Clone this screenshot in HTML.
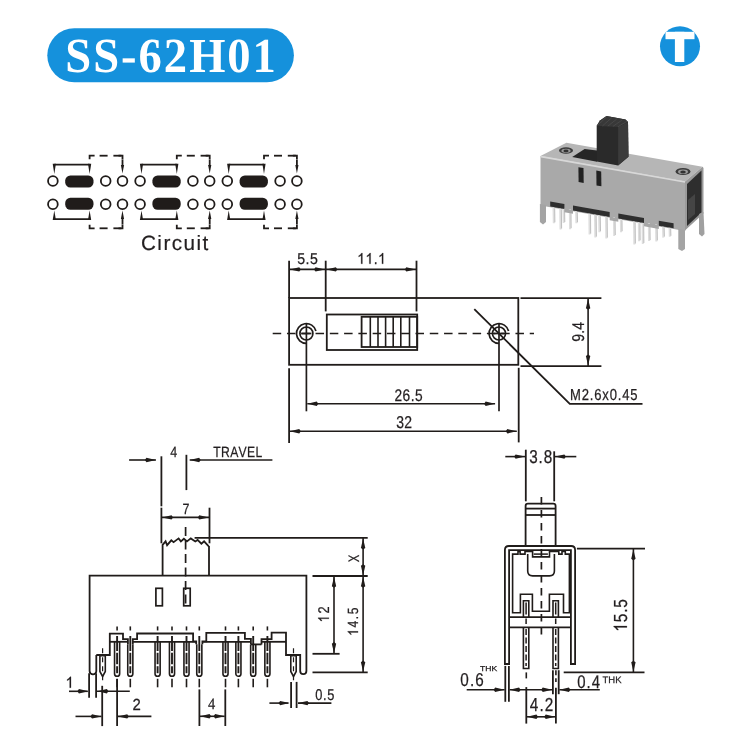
<!DOCTYPE html>
<html><head><meta charset="utf-8"><style>
html,body{margin:0;padding:0;background:#fff;width:735px;height:744px;overflow:hidden}
svg{position:absolute;left:0;top:0;display:block}
text{text-rendering:geometricPrecision}
</style></head><body>
<svg style="will-change:transform" width="735" height="744" viewBox="0 0 735 744">
<defs><filter id="soft" x="-5%" y="-5%" width="110%" height="110%"><feGaussianBlur stdDeviation="0.6"/></filter></defs>
<rect width="735" height="744" fill="#fff"/>
<g filter="url(#soft)">
<polygon points="540.5,156.1 566.4,142.8 702.5,166.8 685,181.6" fill="#b6b6b6"/>
<polygon points="540.5,156.1 685,181.6 685,231 540.5,205.5" fill="#a9a9a9"/>
<line x1="541" y1="156.6" x2="685" y2="182" stroke="#d8d8d8" stroke-width="1.6"/>
<polygon points="685,181.6 702.5,166.8 703.5,168 703.5,213.5 686,229.5 685,231" fill="#9a9a9a"/>
<polygon points="687,184 701.5,170.5 701.5,212.5 687,226" fill="#2e2e2e"/>
<polygon points="688,200 695,194 695,214 688,220" fill="#454545"/>
<polygon points="572.2,157 584.6,149 597,150.5 597,161.8" fill="#262626"/>
<polygon points="596.7,161.6 596.7,125.7 600,120.5 606.5,116 625.5,119.5 628,122 628.5,156.8 618.1,165.6" fill="#2c2c2c"/>
<polygon points="618.1,126.9 628,122 628.5,156.8 618.1,165.6" fill="#3a3a3a"/>
<polygon points="596.7,125.7 600,120.5 606.5,116 625.5,119.5 628,122 618.1,126.9" fill="#383838"/>
<line x1="597.5" y1="125.5" x2="606.5" y2="116.8" stroke="#4a4a4a" stroke-width="0.9"/>
<line x1="602.6" y1="125.8" x2="611.6" y2="117.9" stroke="#4a4a4a" stroke-width="0.9"/>
<line x1="607.8" y1="126.1" x2="616.8" y2="119.0" stroke="#4a4a4a" stroke-width="0.9"/>
<line x1="612.9" y1="126.4" x2="621.9" y2="120.2" stroke="#4a4a4a" stroke-width="0.9"/>
<line x1="618.0" y1="126.7" x2="627.0" y2="121.3" stroke="#4a4a4a" stroke-width="0.9"/>
<ellipse cx="566" cy="150.5" rx="7" ry="3.2" fill="#3c3c3c"/><ellipse cx="566" cy="150.7" rx="4.6" ry="2" fill="#9a9a9a"/><ellipse cx="566" cy="150.9" rx="2.6" ry="1.3" fill="#333"/>
<ellipse cx="683" cy="171.5" rx="7.5" ry="3.6" fill="#3c3c3c"/><ellipse cx="683" cy="171.7" rx="5" ry="2.3" fill="#9a9a9a"/><ellipse cx="683" cy="171.9" rx="2.8" ry="1.5" fill="#333"/>
<polygon points="578.4,167.2 583.5,168 583.7,182.9 578.6,182.1" fill="#222"/>
<polygon points="596.3,170.6 601.2,171.4 601.4,186.2 596.5,185.4" fill="#222"/>
<line x1="553.5" y1="206.3" x2="553.8" y2="223.3" stroke="#dedede" stroke-width="2"/>
<line x1="554.7" y1="208.3" x2="554.9" y2="222.3" stroke="#a8a8a8" stroke-width="0.7"/>
<line x1="560.2" y1="207.5" x2="560.5" y2="229.5" stroke="#dedede" stroke-width="2"/>
<line x1="561.4000000000001" y1="209.5" x2="561.6" y2="228.5" stroke="#a8a8a8" stroke-width="0.7"/>
<line x1="563.4" y1="208.0" x2="563.6999999999999" y2="223.0" stroke="#dedede" stroke-width="2"/>
<line x1="564.6" y1="210.0" x2="564.8" y2="222.0" stroke="#a8a8a8" stroke-width="0.7"/>
<line x1="569.8" y1="209.2" x2="570.0999999999999" y2="229.2" stroke="#dedede" stroke-width="2"/>
<line x1="571.0" y1="211.2" x2="571.1999999999999" y2="228.2" stroke="#a8a8a8" stroke-width="0.7"/>
<line x1="576.1" y1="210.3" x2="576.4" y2="223.3" stroke="#dedede" stroke-width="2"/>
<line x1="577.3000000000001" y1="212.3" x2="577.5" y2="222.3" stroke="#a8a8a8" stroke-width="0.7"/>
<line x1="589.3" y1="212.6" x2="589.5999999999999" y2="234.6" stroke="#dedede" stroke-width="2"/>
<line x1="590.5" y1="214.6" x2="590.6999999999999" y2="233.6" stroke="#a8a8a8" stroke-width="0.7"/>
<line x1="595" y1="213.6" x2="595.3" y2="237.6" stroke="#dedede" stroke-width="2"/>
<line x1="596.2" y1="215.6" x2="596.4" y2="236.6" stroke="#a8a8a8" stroke-width="0.7"/>
<line x1="599.1" y1="214.3" x2="599.4" y2="232.3" stroke="#dedede" stroke-width="2"/>
<line x1="600.3000000000001" y1="216.3" x2="600.5" y2="231.3" stroke="#a8a8a8" stroke-width="0.7"/>
<line x1="606" y1="215.6" x2="606.3" y2="238.6" stroke="#dedede" stroke-width="2"/>
<line x1="607.2" y1="217.6" x2="607.4" y2="237.6" stroke="#a8a8a8" stroke-width="0.7"/>
<line x1="613.9" y1="217.0" x2="614.1999999999999" y2="236.0" stroke="#dedede" stroke-width="2"/>
<line x1="615.1" y1="219.0" x2="615.3" y2="235.0" stroke="#a8a8a8" stroke-width="0.7"/>
<line x1="620.8" y1="218.2" x2="621.0999999999999" y2="232.2" stroke="#dedede" stroke-width="2"/>
<line x1="622.0" y1="220.2" x2="622.1999999999999" y2="231.2" stroke="#a8a8a8" stroke-width="0.7"/>
<line x1="634" y1="220.5" x2="634.3" y2="244.5" stroke="#dedede" stroke-width="2"/>
<line x1="635.2" y1="222.5" x2="635.4" y2="243.5" stroke="#a8a8a8" stroke-width="0.7"/>
<line x1="638.8" y1="221.3" x2="639.0999999999999" y2="241.3" stroke="#dedede" stroke-width="2"/>
<line x1="640.0" y1="223.3" x2="640.1999999999999" y2="240.3" stroke="#a8a8a8" stroke-width="0.7"/>
<line x1="642.5" y1="222.0" x2="642.8" y2="244.0" stroke="#dedede" stroke-width="2"/>
<line x1="643.7" y1="224.0" x2="643.9" y2="243.0" stroke="#a8a8a8" stroke-width="0.7"/>
<line x1="648.8" y1="223.1" x2="649.0999999999999" y2="241.1" stroke="#dedede" stroke-width="2"/>
<line x1="650.0" y1="225.1" x2="650.1999999999999" y2="240.1" stroke="#a8a8a8" stroke-width="0.7"/>
<line x1="656" y1="224.4" x2="656.3" y2="241.4" stroke="#dedede" stroke-width="2"/>
<line x1="657.2" y1="226.4" x2="657.4" y2="240.4" stroke="#a8a8a8" stroke-width="0.7"/>
<line x1="663" y1="225.6" x2="663.3" y2="237.6" stroke="#dedede" stroke-width="2"/>
<line x1="664.2" y1="227.6" x2="664.4" y2="236.6" stroke="#a8a8a8" stroke-width="0.7"/>
<line x1="669.5" y1="226.8" x2="669.8" y2="236.8" stroke="#dedede" stroke-width="2"/>
<line x1="670.7" y1="228.8" x2="670.9" y2="235.8" stroke="#a8a8a8" stroke-width="0.7"/>
<polygon points="550.2,201.5 564.4,204.0 564.4,209.0 550.2,206.5" fill="#2f2f2f"/>
<polygon points="573,205.5 609.7,212.0 609.7,217.0 573,210.5" fill="#2f2f2f"/>
<polygon points="618.3,213.5 644,218.1 644,223.1 618.3,218.5" fill="#2f2f2f"/>
<polygon points="658.8,220.7 673.6,223.3 673.6,228.3 658.8,225.7" fill="#2f2f2f"/>
<polygon points="564.4,208.7 573,210.2 573,213.7 564.4,212.2" fill="#a6a6a6"/>
<polygon points="609.7,216.7 618.3,218.2 618.3,221.7 609.7,220.2" fill="#a6a6a6"/>
<polygon points="644,222.8 658.8,225.4 658.8,228.9 644,226.3" fill="#a6a6a6"/>
<polygon points="539.9,204 546,205 546,222 543,224.5 539.9,222" fill="#a4a4a4"/>
<polygon points="678.3,229 685,230 685,249 682,251 678.3,249" fill="#a4a4a4"/>
<polygon points="699,214 703.5,212 704.5,234 702,236.5 699,234" fill="#a0a0a0"/>
</g>
<rect x="47.3" y="28.3" width="246.6" height="54" rx="27" fill="#1591dc"/>
<g transform="translate(65.32,71.70) scale(0.9500,1)"><text x="0.00" y="0" font-family='"Liberation Serif", serif' font-weight="bold" font-size="49.02" fill="#fff" stroke="#fff" stroke-width="0">S</text><text x="29.36" y="0" font-family='"Liberation Serif", serif' font-weight="bold" font-size="49.02" fill="#fff" stroke="#fff" stroke-width="0">S</text><text x="58.71" y="0" font-family='"Liberation Serif", serif' font-weight="bold" font-size="49.02" fill="#fff" stroke="#fff" stroke-width="0">-</text><text x="77.13" y="0" font-family='"Liberation Serif", serif' font-weight="bold" font-size="49.02" fill="#fff" stroke="#fff" stroke-width="0">6</text><text x="103.73" y="0" font-family='"Liberation Serif", serif' font-weight="bold" font-size="49.02" fill="#fff" stroke="#fff" stroke-width="0">2</text><text x="130.34" y="0" font-family='"Liberation Serif", serif' font-weight="bold" font-size="49.02" fill="#fff" stroke="#fff" stroke-width="0">H</text><text x="170.56" y="0" font-family='"Liberation Serif", serif' font-weight="bold" font-size="49.02" fill="#fff" stroke="#fff" stroke-width="0">0</text><text x="197.16" y="0" font-family='"Liberation Serif", serif' font-weight="bold" font-size="49.02" fill="#fff" stroke="#fff" stroke-width="0">1</text></g>
<clipPath id="tc"><circle cx="680" cy="46.3" r="20"/></clipPath>
<circle cx="680" cy="46.3" r="20" fill="#1591dc"/>
<g clip-path="url(#tc)"><rect x="665.5" y="31.8" width="29" height="7.4" fill="#fff"/><rect x="674.9" y="31.8" width="9.4" height="30.2" fill="#fff"/></g>
<circle cx="52.9" cy="181" r="4.85" fill="none" stroke="#201c1a" stroke-width="1.8"/>
<circle cx="105.7" cy="181" r="4.85" fill="none" stroke="#201c1a" stroke-width="1.8"/>
<circle cx="122.5" cy="181" r="4.85" fill="none" stroke="#201c1a" stroke-width="1.8"/>
<rect x="65.2" y="175.4" width="28.3" height="12" rx="5.2" fill="#201c1a"/>
<circle cx="52.9" cy="204.2" r="4.85" fill="none" stroke="#201c1a" stroke-width="1.8"/>
<circle cx="105.7" cy="204.2" r="4.85" fill="none" stroke="#201c1a" stroke-width="1.8"/>
<circle cx="122.5" cy="204.2" r="4.85" fill="none" stroke="#201c1a" stroke-width="1.8"/>
<rect x="65.2" y="197.8" width="28.3" height="12" rx="5.2" fill="#201c1a"/>
<line x1="54.3" y1="164.6" x2="89.6" y2="164.6" stroke="#201c1a" stroke-width="1.8"/>
<polygon points="52.7,163.7 55.9,163.7 54.3,174.1" fill="#201c1a"/>
<polygon points="88.0,163.7 91.2,163.7 89.6,174.1" fill="#201c1a"/>
<path d="M89.6,159.2 V155.7 H94.6" fill="none" stroke="#201c1a" stroke-width="1.8" />
<line x1="99.6" y1="155.7" x2="107.6" y2="155.7" stroke="#201c1a" stroke-width="1.8"/>
<line x1="113.39999999999999" y1="155.7" x2="121.39999999999999" y2="155.7" stroke="#201c1a" stroke-width="1.8"/>
<path d="M118.5,155.7 H122.5 V159.5" fill="none" stroke="#201c1a" stroke-width="1.8" />
<line x1="122.5" y1="159.7" x2="122.5" y2="166" stroke="#201c1a" stroke-width="1.8"/>
<polygon points="120.9,165 124.1,165 122.5,173.4" fill="#201c1a"/>
<line x1="54.3" y1="219.1" x2="89.6" y2="219.1" stroke="#201c1a" stroke-width="1.8"/>
<polygon points="52.7,220 55.9,220 54.3,210.6" fill="#201c1a"/>
<polygon points="88.0,220 91.2,220 89.6,210.6" fill="#201c1a"/>
<path d="M89.6,224.8 V228.3 H94.6" fill="none" stroke="#201c1a" stroke-width="1.8" />
<line x1="99.6" y1="228.3" x2="107.6" y2="228.3" stroke="#201c1a" stroke-width="1.8"/>
<line x1="113.39999999999999" y1="228.3" x2="121.39999999999999" y2="228.3" stroke="#201c1a" stroke-width="1.8"/>
<path d="M118.5,228.3 H122.5 V224.5" fill="none" stroke="#201c1a" stroke-width="1.8" />
<line x1="122.5" y1="224.3" x2="122.5" y2="218" stroke="#201c1a" stroke-width="1.8"/>
<polygon points="120.9,219 124.1,219 122.5,210.6" fill="#201c1a"/>
<circle cx="140.1" cy="181" r="4.85" fill="none" stroke="#201c1a" stroke-width="1.8"/>
<circle cx="192.9" cy="181" r="4.85" fill="none" stroke="#201c1a" stroke-width="1.8"/>
<circle cx="209.7" cy="181" r="4.85" fill="none" stroke="#201c1a" stroke-width="1.8"/>
<rect x="152.4" y="175.4" width="28.3" height="12" rx="5.2" fill="#201c1a"/>
<circle cx="140.1" cy="204.2" r="4.85" fill="none" stroke="#201c1a" stroke-width="1.8"/>
<circle cx="192.9" cy="204.2" r="4.85" fill="none" stroke="#201c1a" stroke-width="1.8"/>
<circle cx="209.7" cy="204.2" r="4.85" fill="none" stroke="#201c1a" stroke-width="1.8"/>
<rect x="152.4" y="197.8" width="28.3" height="12" rx="5.2" fill="#201c1a"/>
<line x1="141.5" y1="164.6" x2="176.8" y2="164.6" stroke="#201c1a" stroke-width="1.8"/>
<polygon points="139.9,163.7 143.1,163.7 141.5,174.1" fill="#201c1a"/>
<polygon points="175.2,163.7 178.4,163.7 176.8,174.1" fill="#201c1a"/>
<path d="M176.8,159.2 V155.7 H181.8" fill="none" stroke="#201c1a" stroke-width="1.8" />
<line x1="186.8" y1="155.7" x2="194.8" y2="155.7" stroke="#201c1a" stroke-width="1.8"/>
<line x1="200.60000000000002" y1="155.7" x2="208.60000000000002" y2="155.7" stroke="#201c1a" stroke-width="1.8"/>
<path d="M205.7,155.7 H209.7 V159.5" fill="none" stroke="#201c1a" stroke-width="1.8" />
<line x1="209.7" y1="159.7" x2="209.7" y2="166" stroke="#201c1a" stroke-width="1.8"/>
<polygon points="208.1,165 211.3,165 209.7,173.4" fill="#201c1a"/>
<line x1="141.5" y1="219.1" x2="176.8" y2="219.1" stroke="#201c1a" stroke-width="1.8"/>
<polygon points="139.9,220 143.1,220 141.5,210.6" fill="#201c1a"/>
<polygon points="175.2,220 178.4,220 176.8,210.6" fill="#201c1a"/>
<path d="M176.8,224.8 V228.3 H181.8" fill="none" stroke="#201c1a" stroke-width="1.8" />
<line x1="186.8" y1="228.3" x2="194.8" y2="228.3" stroke="#201c1a" stroke-width="1.8"/>
<line x1="200.60000000000002" y1="228.3" x2="208.60000000000002" y2="228.3" stroke="#201c1a" stroke-width="1.8"/>
<path d="M205.7,228.3 H209.7 V224.5" fill="none" stroke="#201c1a" stroke-width="1.8" />
<line x1="209.7" y1="224.3" x2="209.7" y2="218" stroke="#201c1a" stroke-width="1.8"/>
<polygon points="208.1,219 211.3,219 209.7,210.6" fill="#201c1a"/>
<circle cx="227.3" cy="181" r="4.85" fill="none" stroke="#201c1a" stroke-width="1.8"/>
<circle cx="280.1" cy="181" r="4.85" fill="none" stroke="#201c1a" stroke-width="1.8"/>
<circle cx="296.9" cy="181" r="4.85" fill="none" stroke="#201c1a" stroke-width="1.8"/>
<rect x="239.6" y="175.4" width="28.3" height="12" rx="5.2" fill="#201c1a"/>
<circle cx="227.3" cy="204.2" r="4.85" fill="none" stroke="#201c1a" stroke-width="1.8"/>
<circle cx="280.1" cy="204.2" r="4.85" fill="none" stroke="#201c1a" stroke-width="1.8"/>
<circle cx="296.9" cy="204.2" r="4.85" fill="none" stroke="#201c1a" stroke-width="1.8"/>
<rect x="239.6" y="197.8" width="28.3" height="12" rx="5.2" fill="#201c1a"/>
<line x1="228.70000000000002" y1="164.6" x2="264.0" y2="164.6" stroke="#201c1a" stroke-width="1.8"/>
<polygon points="227.1,163.7 230.3,163.7 228.7,174.1" fill="#201c1a"/>
<polygon points="262.4,163.7 265.6,163.7 264.0,174.1" fill="#201c1a"/>
<path d="M264.0,159.2 V155.7 H269.0" fill="none" stroke="#201c1a" stroke-width="1.8" />
<line x1="274.0" y1="155.7" x2="282.0" y2="155.7" stroke="#201c1a" stroke-width="1.8"/>
<line x1="287.8" y1="155.7" x2="295.8" y2="155.7" stroke="#201c1a" stroke-width="1.8"/>
<path d="M292.9,155.7 H296.9 V159.5" fill="none" stroke="#201c1a" stroke-width="1.8" />
<line x1="296.9" y1="159.7" x2="296.9" y2="166" stroke="#201c1a" stroke-width="1.8"/>
<polygon points="295.3,165 298.5,165 296.9,173.4" fill="#201c1a"/>
<line x1="228.70000000000002" y1="219.1" x2="264.0" y2="219.1" stroke="#201c1a" stroke-width="1.8"/>
<polygon points="227.1,220 230.3,220 228.7,210.6" fill="#201c1a"/>
<polygon points="262.4,220 265.6,220 264.0,210.6" fill="#201c1a"/>
<path d="M264.0,224.8 V228.3 H269.0" fill="none" stroke="#201c1a" stroke-width="1.8" />
<line x1="274.0" y1="228.3" x2="282.0" y2="228.3" stroke="#201c1a" stroke-width="1.8"/>
<line x1="287.8" y1="228.3" x2="295.8" y2="228.3" stroke="#201c1a" stroke-width="1.8"/>
<path d="M292.9,228.3 H296.9 V224.5" fill="none" stroke="#201c1a" stroke-width="1.8" />
<line x1="296.9" y1="224.3" x2="296.9" y2="218" stroke="#201c1a" stroke-width="1.8"/>
<polygon points="295.3,219 298.5,219 296.9,210.6" fill="#201c1a"/>
<g transform="translate(140.95,250.20) scale(1.0000,1)"><text x="0.00" y="0" font-family='"Liberation Sans", sans-serif' font-weight="normal" font-size="20.70" fill="#231f20" stroke="#231f20" stroke-width="0.2">C</text><text x="16.41" y="0" font-family='"Liberation Sans", sans-serif' font-weight="normal" font-size="20.70" fill="#231f20" stroke="#231f20" stroke-width="0.2">i</text><text x="22.46" y="0" font-family='"Liberation Sans", sans-serif' font-weight="normal" font-size="20.70" fill="#231f20" stroke="#231f20" stroke-width="0.2">r</text><text x="30.82" y="0" font-family='"Liberation Sans", sans-serif' font-weight="normal" font-size="20.70" fill="#231f20" stroke="#231f20" stroke-width="0.2">c</text><text x="42.62" y="0" font-family='"Liberation Sans", sans-serif' font-weight="normal" font-size="20.70" fill="#231f20" stroke="#231f20" stroke-width="0.2">u</text><text x="55.59" y="0" font-family='"Liberation Sans", sans-serif' font-weight="normal" font-size="20.70" fill="#231f20" stroke="#231f20" stroke-width="0.2">i</text><text x="61.65" y="0" font-family='"Liberation Sans", sans-serif' font-weight="normal" font-size="20.70" fill="#231f20" stroke="#231f20" stroke-width="0.2">t</text></g>
<rect x="289.1" y="298" width="229.2" height="66.8" fill="none" stroke="#201c1a" stroke-width="1.8"/>
<rect x="326.8" y="314.5" width="90.4" height="35.5" fill="none" stroke="#201c1a" stroke-width="1.8"/>
<rect x="361.6" y="316.8" width="55.6" height="30.2" fill="none" stroke="#201c1a" stroke-width="1.8"/>
<line x1="370.3" y1="316.8" x2="370.3" y2="347" stroke="#201c1a" stroke-width="1.6"/>
<line x1="378" y1="316.8" x2="378" y2="347" stroke="#201c1a" stroke-width="1.6"/>
<line x1="385.6" y1="316.8" x2="385.6" y2="347" stroke="#201c1a" stroke-width="1.6"/>
<line x1="393.2" y1="316.8" x2="393.2" y2="347" stroke="#201c1a" stroke-width="1.6"/>
<line x1="400.8" y1="316.8" x2="400.8" y2="347" stroke="#201c1a" stroke-width="1.6"/>
<line x1="409.5" y1="316.8" x2="409.5" y2="347" stroke="#201c1a" stroke-width="1.6"/>
<line x1="272.7" y1="333.5" x2="534" y2="333.5" stroke="#201c1a" stroke-width="1.6" stroke-dasharray="8.5,5.78"/>
<circle cx="306.4" cy="333.5" r="6.5" fill="none" stroke="#201c1a" stroke-width="1.7"/>
<path d="M315.96,330.94 A9.9,9.9 0 1 0 306.40,343.40" fill="none" stroke="#201c1a" stroke-width="1.7" />
<line x1="306.4" y1="323" x2="306.4" y2="411.3" stroke="#201c1a" stroke-width="1.7"/>
<line x1="301.4" y1="333.5" x2="311.4" y2="333.5" stroke="#201c1a" stroke-width="1.7"/>
<circle cx="499" cy="333.5" r="6.5" fill="none" stroke="#201c1a" stroke-width="1.7"/>
<path d="M508.56,330.94 A9.9,9.9 0 1 0 499.00,343.40" fill="none" stroke="#201c1a" stroke-width="1.7" />
<line x1="499" y1="323" x2="499" y2="411.3" stroke="#201c1a" stroke-width="1.7"/>
<line x1="494" y1="333.5" x2="504" y2="333.5" stroke="#201c1a" stroke-width="1.7"/>
<line x1="289.1" y1="260.7" x2="289.1" y2="298" stroke="#201c1a" stroke-width="1.8"/>
<line x1="325.7" y1="260.7" x2="325.7" y2="311.4" stroke="#201c1a" stroke-width="1.8"/>
<line x1="416.5" y1="260.7" x2="416.5" y2="311.4" stroke="#201c1a" stroke-width="1.8"/>
<line x1="289.1" y1="269.4" x2="416.5" y2="269.4" stroke="#201c1a" stroke-width="1.6"/>
<polygon points="289.80,269.40 299.26,267.20 300.80,269.40 299.26,271.60" fill="#201c1a"/>
<polygon points="325.00,269.40 315.54,267.20 314.00,269.40 315.54,271.60" fill="#201c1a"/>
<polygon points="326.40,269.40 335.86,267.20 337.40,269.40 335.86,271.60" fill="#201c1a"/>
<polygon points="415.80,269.40 406.34,267.20 404.80,269.40 406.34,271.60" fill="#201c1a"/>
<g transform="translate(297.33,263.80) scale(0.9000,1)"><text x="0.00" y="0" font-family='"Liberation Sans", sans-serif' font-weight="normal" font-size="15.70" fill="#231f20" stroke="#231f20" stroke-width="0.25">5</text><text x="9.19" y="0" font-family='"Liberation Sans", sans-serif' font-weight="normal" font-size="15.70" fill="#231f20" stroke="#231f20" stroke-width="0.25">.</text><text x="14.00" y="0" font-family='"Liberation Sans", sans-serif' font-weight="normal" font-size="15.70" fill="#231f20" stroke="#231f20" stroke-width="0.25">5</text></g>
<g transform="translate(357.18,263.80) scale(0.9000,1)"><polygon points="5.77,0.00 5.77,-10.80 4.87,-10.80 4.18,-9.90 2.94,-8.85 1.69,-8.11 1.69,-6.81 3.09,-7.47 4.38,-8.39 4.38,0.00" fill="#231f20" stroke="#231f20" stroke-width="0.25" stroke-linejoin="round"/><polygon points="14.92,0.00 14.92,-10.80 14.02,-10.80 13.32,-9.90 12.09,-8.85 10.83,-8.11 10.83,-6.81 12.24,-7.47 13.53,-8.39 13.53,0.00" fill="#231f20" stroke="#231f20" stroke-width="0.25" stroke-linejoin="round"/><text x="18.29" y="0" font-family='"Liberation Sans", sans-serif' font-weight="normal" font-size="15.47" fill="#231f20" stroke="#231f20" stroke-width="0.25">.</text><polygon points="28.91,0.00 28.91,-10.80 28.01,-10.80 27.32,-9.90 26.08,-8.85 24.82,-8.11 24.82,-6.81 26.23,-7.47 27.52,-8.39 27.52,0.00" fill="#231f20" stroke="#231f20" stroke-width="0.25" stroke-linejoin="round"/></g>
<line x1="520.5" y1="298.1" x2="601.4" y2="298.1" stroke="#201c1a" stroke-width="1.8"/>
<line x1="520.5" y1="366.1" x2="601.4" y2="366.1" stroke="#201c1a" stroke-width="1.8"/>
<line x1="588.1" y1="298.1" x2="588.1" y2="366.1" stroke="#201c1a" stroke-width="1.6"/>
<polygon points="588.10,298.80 585.90,308.26 588.10,309.80 590.30,308.26" fill="#201c1a"/>
<polygon points="588.10,365.40 585.90,355.94 588.10,354.40 590.30,355.94" fill="#201c1a"/>
<g transform="translate(578.00,331.70) rotate(-90) translate(-10.06,5.95) scale(0.8200,1)"><text x="0.00" y="0" font-family='"Liberation Sans", sans-serif' font-weight="normal" font-size="17.04" fill="#231f20" stroke="#231f20" stroke-width="0.25">9</text><text x="9.74" y="0" font-family='"Liberation Sans", sans-serif' font-weight="normal" font-size="17.04" fill="#231f20" stroke="#231f20" stroke-width="0.25">.</text><text x="14.75" y="0" font-family='"Liberation Sans", sans-serif' font-weight="normal" font-size="17.04" fill="#231f20" stroke="#231f20" stroke-width="0.25">4</text></g>
<line x1="289.1" y1="368.2" x2="289.1" y2="442.9" stroke="#201c1a" stroke-width="1.8"/>
<line x1="518.7" y1="367.8" x2="518.7" y2="442.4" stroke="#201c1a" stroke-width="1.8"/>
<line x1="307.3" y1="403.7" x2="495.1" y2="403.7" stroke="#201c1a" stroke-width="1.6"/>
<polygon points="307.30,403.70 316.76,401.50 318.30,403.70 316.76,405.90" fill="#201c1a"/>
<polygon points="495.10,403.70 485.64,401.50 484.10,403.70 485.64,405.90" fill="#201c1a"/>
<line x1="289.8" y1="431.3" x2="516.8" y2="431.3" stroke="#201c1a" stroke-width="1.6"/>
<polygon points="289.80,431.30 299.26,429.10 300.80,431.30 299.26,433.50" fill="#201c1a"/>
<polygon points="516.80,431.30 507.34,429.10 505.80,431.30 507.34,433.50" fill="#201c1a"/>
<g transform="translate(394.51,401.10) scale(0.8200,1)"><text x="0.00" y="0" font-family='"Liberation Sans", sans-serif' font-weight="normal" font-size="16.76" fill="#231f20" stroke="#231f20" stroke-width="0.25">2</text><text x="9.90" y="0" font-family='"Liberation Sans", sans-serif' font-weight="normal" font-size="16.76" fill="#231f20" stroke="#231f20" stroke-width="0.25">6</text><text x="19.80" y="0" font-family='"Liberation Sans", sans-serif' font-weight="normal" font-size="16.76" fill="#231f20" stroke="#231f20" stroke-width="0.25">.</text><text x="25.03" y="0" font-family='"Liberation Sans", sans-serif' font-weight="normal" font-size="16.76" fill="#231f20" stroke="#231f20" stroke-width="0.25">5</text></g>
<g transform="translate(396.17,428.00) scale(0.8200,1)"><text x="0.00" y="0" font-family='"Liberation Sans", sans-serif' font-weight="normal" font-size="17.04" fill="#231f20" stroke="#231f20" stroke-width="0.25">3</text><text x="9.71" y="0" font-family='"Liberation Sans", sans-serif' font-weight="normal" font-size="17.04" fill="#231f20" stroke="#231f20" stroke-width="0.25">2</text></g>
<path d="M474.3,309.2 L569.8,403.9 H642.5" fill="none" stroke="#201c1a" stroke-width="1.8" />
<g transform="translate(569.93,400.20) scale(0.8200,1)"><text x="0.00" y="0" font-family='"Liberation Sans", sans-serif' font-weight="normal" font-size="15.90" fill="#231f20" stroke="#231f20" stroke-width="0.25">M</text><text x="14.27" y="0" font-family='"Liberation Sans", sans-serif' font-weight="normal" font-size="15.90" fill="#231f20" stroke="#231f20" stroke-width="0.25">2</text><text x="24.14" y="0" font-family='"Liberation Sans", sans-serif' font-weight="normal" font-size="15.90" fill="#231f20" stroke="#231f20" stroke-width="0.25">.</text><text x="29.59" y="0" font-family='"Liberation Sans", sans-serif' font-weight="normal" font-size="15.90" fill="#231f20" stroke="#231f20" stroke-width="0.25">6</text><text x="39.46" y="0" font-family='"Liberation Sans", sans-serif' font-weight="normal" font-size="15.90" fill="#231f20" stroke="#231f20" stroke-width="0.25">x</text><text x="48.43" y="0" font-family='"Liberation Sans", sans-serif' font-weight="normal" font-size="15.90" fill="#231f20" stroke="#231f20" stroke-width="0.25">0</text><text x="58.30" y="0" font-family='"Liberation Sans", sans-serif' font-weight="normal" font-size="15.90" fill="#231f20" stroke="#231f20" stroke-width="0.25">.</text><text x="63.75" y="0" font-family='"Liberation Sans", sans-serif' font-weight="normal" font-size="15.90" fill="#231f20" stroke="#231f20" stroke-width="0.25">4</text><text x="73.62" y="0" font-family='"Liberation Sans", sans-serif' font-weight="normal" font-size="15.90" fill="#231f20" stroke="#231f20" stroke-width="0.25">5</text></g>
<line x1="161.4" y1="456.3" x2="161.4" y2="506.3" stroke="#201c1a" stroke-width="1.8"/>
<line x1="161.4" y1="507.7" x2="161.4" y2="543.3" stroke="#201c1a" stroke-width="1.8"/>
<line x1="186.4" y1="454.8" x2="186.4" y2="490.1" stroke="#201c1a" stroke-width="1.8"/>
<line x1="129.1" y1="460" x2="155.9" y2="460" stroke="#201c1a" stroke-width="1.6"/>
<polygon points="155.90,460.00 146.44,457.80 144.90,460.00 146.44,462.20" fill="#201c1a"/>
<line x1="189.7" y1="460" x2="272.4" y2="460" stroke="#201c1a" stroke-width="1.6"/>
<polygon points="189.70,460.00 199.16,457.80 200.70,460.00 199.16,462.20" fill="#201c1a"/>
<g transform="translate(170.21,456.50) scale(0.8433,1)"><text x="0.00" y="0" font-family='"Liberation Sans", sans-serif' font-weight="normal" font-size="14.83" fill="#231f20" stroke="#231f20" stroke-width="0.25">4</text></g>
<g transform="translate(213.33,456.50) scale(0.8200,1)"><text x="0.00" y="0" font-family='"Liberation Sans", sans-serif' font-weight="normal" font-size="14.83" fill="#231f20" stroke="#231f20" stroke-width="0.25">T</text><text x="9.44" y="0" font-family='"Liberation Sans", sans-serif' font-weight="normal" font-size="14.83" fill="#231f20" stroke="#231f20" stroke-width="0.25">R</text><text x="20.54" y="0" font-family='"Liberation Sans", sans-serif' font-weight="normal" font-size="14.83" fill="#231f20" stroke="#231f20" stroke-width="0.25">A</text><text x="30.81" y="0" font-family='"Liberation Sans", sans-serif' font-weight="normal" font-size="14.83" fill="#231f20" stroke="#231f20" stroke-width="0.25">V</text><text x="41.09" y="0" font-family='"Liberation Sans", sans-serif' font-weight="normal" font-size="14.83" fill="#231f20" stroke="#231f20" stroke-width="0.25">E</text><text x="51.36" y="0" font-family='"Liberation Sans", sans-serif' font-weight="normal" font-size="14.83" fill="#231f20" stroke="#231f20" stroke-width="0.25">L</text></g>
<line x1="209.5" y1="507.7" x2="209.5" y2="543.3" stroke="#201c1a" stroke-width="1.8"/>
<line x1="161.4" y1="517.4" x2="209.5" y2="517.4" stroke="#201c1a" stroke-width="1.6"/>
<polygon points="162.10,517.40 171.56,515.20 173.10,517.40 171.56,519.60" fill="#201c1a"/>
<polygon points="208.80,517.40 199.34,515.20 197.80,517.40 199.34,519.60" fill="#201c1a"/>
<g transform="translate(182.56,514.00) scale(0.8457,1)"><text x="0.00" y="0" font-family='"Liberation Sans", sans-serif' font-weight="normal" font-size="14.83" fill="#231f20" stroke="#231f20" stroke-width="0.25">7</text></g>
<path d="M162.6,575.7 V544.9 L165.6,541.3 L167.1,545.2 L171.3,540.3 L173.6,542.2 L178.6,538.4 L180.9,541.4 L183.9,538.8 L187,541.4 L190.8,538.4 L195.3,541.4 L197.6,539.9 L201.4,543.7 L204.1,541.3 L208.7,546.4 L209,546.6 V575.7" fill="none" stroke="#201c1a" stroke-width="1.8" />
<line x1="194.6" y1="537.8" x2="367.7" y2="537.8" stroke="#201c1a" stroke-width="1.8"/>
<line x1="185.6" y1="527" x2="185.6" y2="607" stroke="#201c1a" stroke-width="1.7" stroke-dasharray="9,4.5"/>
<path d="M96.3,655 V671 A3.35,3.35 0 0 1 89.6,671 V575.7 H306.4 V671 A3.1,3.1 0 0 1 300.2,671 V655 H286 V632.6 H271.6 V639.1 H261.5 V644.4 M255.5,644.4 V644.4 M250.9,644.4 V638.9 H244.9 V632.8 H206.3 V641.4 H202.4 V644.3 M196.2,644.3 V641.4 H193.1 V633.5 H137.1 V639.2 H132.8 V644.2 M127.9,644.2 V639.1 H123 V633.6 H109.8 V655 H96.3" fill="none" stroke="#201c1a" stroke-width="1.8" />
<line x1="109.8" y1="641.8" x2="127.9" y2="641.8" stroke="#201c1a" stroke-width="1.8"/>
<line x1="132.8" y1="641.8" x2="196.2" y2="641.8" stroke="#201c1a" stroke-width="1.8"/>
<line x1="202.4" y1="641.8" x2="250.9" y2="641.8" stroke="#201c1a" stroke-width="1.8"/>
<line x1="261.5" y1="641.8" x2="286" y2="641.8" stroke="#201c1a" stroke-width="1.8"/>
<path d="M250.9,644.4 H261.5" fill="none" stroke="#201c1a" stroke-width="1.8" />
<rect x="155.9" y="588.3" width="6.5" height="17.5" fill="none" stroke="#201c1a" stroke-width="1.7"/>
<rect x="183.7" y="588.3" width="6.5" height="17.5" fill="none" stroke="#201c1a" stroke-width="1.7"/>
<path d="M114.55,641.8 V673.75 A2.55,2.55 0 0 0 119.65,673.75 V641.8" fill="none" stroke="#201c1a" stroke-width="1.6" />
<line x1="117.1" y1="626.4" x2="117.1" y2="630.5" stroke="#201c1a" stroke-width="1.6"/>
<line x1="117.1" y1="636" x2="117.1" y2="651" stroke="#201c1a" stroke-width="1.9"/>
<line x1="117.1" y1="652.8" x2="117.1" y2="664.2" stroke="#201c1a" stroke-width="1.9"/>
<line x1="117.1" y1="666.2" x2="117.1" y2="673.2" stroke="#201c1a" stroke-width="1.9"/>
<line x1="117.1" y1="678.8" x2="117.1" y2="687.3" stroke="#201c1a" stroke-width="1.6"/>
<path d="M127.75,644.2 V673.75 A2.55,2.55 0 0 0 132.85,673.75 V644.2" fill="none" stroke="#201c1a" stroke-width="1.6" />
<line x1="130.3" y1="626.4" x2="130.3" y2="630.5" stroke="#201c1a" stroke-width="1.6"/>
<line x1="130.3" y1="636" x2="130.3" y2="651" stroke="#201c1a" stroke-width="1.9"/>
<line x1="130.3" y1="652.8" x2="130.3" y2="664.2" stroke="#201c1a" stroke-width="1.9"/>
<line x1="130.3" y1="666.2" x2="130.3" y2="673.2" stroke="#201c1a" stroke-width="1.9"/>
<line x1="130.3" y1="678.8" x2="130.3" y2="687.3" stroke="#201c1a" stroke-width="1.6"/>
<path d="M155.05,641.8 V673.75 A2.55,2.55 0 0 0 160.15,673.75 V641.8" fill="none" stroke="#201c1a" stroke-width="1.6" />
<line x1="157.6" y1="626.4" x2="157.6" y2="630.5" stroke="#201c1a" stroke-width="1.6"/>
<line x1="157.6" y1="636" x2="157.6" y2="651" stroke="#201c1a" stroke-width="1.9"/>
<line x1="157.6" y1="652.8" x2="157.6" y2="664.2" stroke="#201c1a" stroke-width="1.9"/>
<line x1="157.6" y1="666.2" x2="157.6" y2="673.2" stroke="#201c1a" stroke-width="1.9"/>
<line x1="157.6" y1="678.8" x2="157.6" y2="687.3" stroke="#201c1a" stroke-width="1.6"/>
<path d="M169.45,641.8 V673.75 A2.55,2.55 0 0 0 174.55,673.75 V641.8" fill="none" stroke="#201c1a" stroke-width="1.6" />
<line x1="172.0" y1="626.4" x2="172.0" y2="630.5" stroke="#201c1a" stroke-width="1.6"/>
<line x1="172.0" y1="636" x2="172.0" y2="651" stroke="#201c1a" stroke-width="1.9"/>
<line x1="172.0" y1="652.8" x2="172.0" y2="664.2" stroke="#201c1a" stroke-width="1.9"/>
<line x1="172.0" y1="666.2" x2="172.0" y2="673.2" stroke="#201c1a" stroke-width="1.9"/>
<line x1="172.0" y1="678.8" x2="172.0" y2="687.3" stroke="#201c1a" stroke-width="1.6"/>
<path d="M183.95,641.8 V673.75 A2.55,2.55 0 0 0 189.05,673.75 V641.8" fill="none" stroke="#201c1a" stroke-width="1.6" />
<line x1="186.5" y1="626.4" x2="186.5" y2="630.5" stroke="#201c1a" stroke-width="1.6"/>
<line x1="186.5" y1="636" x2="186.5" y2="651" stroke="#201c1a" stroke-width="1.9"/>
<line x1="186.5" y1="652.8" x2="186.5" y2="664.2" stroke="#201c1a" stroke-width="1.9"/>
<line x1="186.5" y1="666.2" x2="186.5" y2="673.2" stroke="#201c1a" stroke-width="1.9"/>
<line x1="186.5" y1="678.8" x2="186.5" y2="687.3" stroke="#201c1a" stroke-width="1.6"/>
<path d="M196.75,644.3 V673.75 A2.55,2.55 0 0 0 201.85,673.75 V644.3" fill="none" stroke="#201c1a" stroke-width="1.6" />
<line x1="199.3" y1="626.4" x2="199.3" y2="630.5" stroke="#201c1a" stroke-width="1.6"/>
<line x1="199.3" y1="636" x2="199.3" y2="651" stroke="#201c1a" stroke-width="1.9"/>
<line x1="199.3" y1="652.8" x2="199.3" y2="664.2" stroke="#201c1a" stroke-width="1.9"/>
<line x1="199.3" y1="666.2" x2="199.3" y2="673.2" stroke="#201c1a" stroke-width="1.9"/>
<line x1="199.3" y1="678.8" x2="199.3" y2="687.3" stroke="#201c1a" stroke-width="1.6"/>
<path d="M222.95,641.8 V673.75 A2.55,2.55 0 0 0 228.05,673.75 V641.8" fill="none" stroke="#201c1a" stroke-width="1.6" />
<line x1="225.5" y1="626.4" x2="225.5" y2="630.5" stroke="#201c1a" stroke-width="1.6"/>
<line x1="225.5" y1="636" x2="225.5" y2="651" stroke="#201c1a" stroke-width="1.9"/>
<line x1="225.5" y1="652.8" x2="225.5" y2="664.2" stroke="#201c1a" stroke-width="1.9"/>
<line x1="225.5" y1="666.2" x2="225.5" y2="673.2" stroke="#201c1a" stroke-width="1.9"/>
<line x1="225.5" y1="678.8" x2="225.5" y2="687.3" stroke="#201c1a" stroke-width="1.6"/>
<path d="M235.85,641.8 V673.75 A2.55,2.55 0 0 0 240.95,673.75 V641.8" fill="none" stroke="#201c1a" stroke-width="1.6" />
<line x1="238.4" y1="626.4" x2="238.4" y2="630.5" stroke="#201c1a" stroke-width="1.6"/>
<line x1="238.4" y1="636" x2="238.4" y2="651" stroke="#201c1a" stroke-width="1.9"/>
<line x1="238.4" y1="652.8" x2="238.4" y2="664.2" stroke="#201c1a" stroke-width="1.9"/>
<line x1="238.4" y1="666.2" x2="238.4" y2="673.2" stroke="#201c1a" stroke-width="1.9"/>
<line x1="238.4" y1="678.8" x2="238.4" y2="687.3" stroke="#201c1a" stroke-width="1.6"/>
<path d="M250.65,644.4 V673.75 A2.55,2.55 0 0 0 255.75,673.75 V644.4" fill="none" stroke="#201c1a" stroke-width="1.6" />
<line x1="253.2" y1="626.4" x2="253.2" y2="630.5" stroke="#201c1a" stroke-width="1.6"/>
<line x1="253.2" y1="636" x2="253.2" y2="651" stroke="#201c1a" stroke-width="1.9"/>
<line x1="253.2" y1="652.8" x2="253.2" y2="664.2" stroke="#201c1a" stroke-width="1.9"/>
<line x1="253.2" y1="666.2" x2="253.2" y2="673.2" stroke="#201c1a" stroke-width="1.9"/>
<line x1="253.2" y1="678.8" x2="253.2" y2="687.3" stroke="#201c1a" stroke-width="1.6"/>
<path d="M264.85,641.8 V673.75 A2.55,2.55 0 0 0 269.95,673.75 V641.8" fill="none" stroke="#201c1a" stroke-width="1.6" />
<line x1="267.4" y1="626.4" x2="267.4" y2="630.5" stroke="#201c1a" stroke-width="1.6"/>
<line x1="267.4" y1="636" x2="267.4" y2="651" stroke="#201c1a" stroke-width="1.9"/>
<line x1="267.4" y1="652.8" x2="267.4" y2="664.2" stroke="#201c1a" stroke-width="1.9"/>
<line x1="267.4" y1="666.2" x2="267.4" y2="673.2" stroke="#201c1a" stroke-width="1.9"/>
<line x1="267.4" y1="678.8" x2="267.4" y2="687.3" stroke="#201c1a" stroke-width="1.6"/>
<path d="M99.90,655.6 V671.5 L102.60,676.5 L105.30,671.5 V655.6 Z" fill="none" stroke="#201c1a" stroke-width="1.6" />
<line x1="102.6" y1="648.3" x2="102.6" y2="683" stroke="#201c1a" stroke-width="1.2" stroke-dasharray="5,4"/>
<path d="M290.80,655.6 V671.5 L293.50,676.5 L296.20,671.5 V655.6 Z" fill="none" stroke="#201c1a" stroke-width="1.6" />
<line x1="293.5" y1="648.3" x2="293.5" y2="683" stroke="#201c1a" stroke-width="1.2" stroke-dasharray="5,4"/>
<line x1="312.5" y1="576" x2="367.7" y2="576" stroke="#201c1a" stroke-width="1.8"/>
<line x1="312.5" y1="653.8" x2="339.6" y2="653.8" stroke="#201c1a" stroke-width="1.8"/>
<line x1="312.5" y1="672.3" x2="367.7" y2="672.3" stroke="#201c1a" stroke-width="1.8"/>
<line x1="334" y1="576" x2="334" y2="653.8" stroke="#201c1a" stroke-width="1.6"/>
<polygon points="334.00,576.70 331.80,586.16 334.00,587.70 336.20,586.16" fill="#201c1a"/>
<polygon points="334.00,653.10 331.80,643.64 334.00,642.10 336.20,643.64" fill="#201c1a"/>
<line x1="363.1" y1="537.8" x2="363.1" y2="672.3" stroke="#201c1a" stroke-width="1.6"/>
<polygon points="363.10,538.50 360.90,547.96 363.10,549.50 365.30,547.96" fill="#201c1a"/>
<polygon points="363.10,575.30 360.90,565.84 363.10,564.30 365.30,565.84" fill="#201c1a"/>
<polygon points="363.10,576.70 360.90,586.16 363.10,587.70 365.30,586.16" fill="#201c1a"/>
<polygon points="363.10,671.60 360.90,662.14 363.10,660.60 365.30,662.14" fill="#201c1a"/>
<g transform="translate(353.30,558.40) rotate(-90) translate(-3.81,5.20) scale(0.7533,1)"><text x="0.00" y="0" font-family='"Liberation Sans", sans-serif' font-weight="normal" font-size="15.12" fill="#231f20" stroke="#231f20" stroke-width="0.25">X</text></g>
<g transform="translate(323.50,614.10) rotate(-90) translate(-8.28,5.40) scale(0.8200,1)"><polygon points="5.77,0.00 5.77,-10.80 4.87,-10.80 4.18,-9.90 2.94,-8.85 1.69,-8.10 1.69,-6.81 3.09,-7.47 4.38,-8.38 4.38,0.00" fill="#231f20" stroke="#231f20" stroke-width="0.25" stroke-linejoin="round"/><text x="10.69" y="0" font-family='"Liberation Sans", sans-serif' font-weight="normal" font-size="15.47" fill="#231f20" stroke="#231f20" stroke-width="0.25">2</text></g>
<g transform="translate(352.90,621.30) rotate(-90) translate(-14.57,5.15) scale(0.8200,1)"><polygon points="5.50,0.00 5.50,-10.30 4.65,-10.30 3.98,-9.44 2.80,-8.44 1.61,-7.73 1.61,-6.49 2.95,-7.13 4.18,-8.00 4.18,0.00" fill="#231f20" stroke="#231f20" stroke-width="0.25" stroke-linejoin="round"/><text x="10.15" y="0" font-family='"Liberation Sans", sans-serif' font-weight="normal" font-size="14.76" fill="#231f20" stroke="#231f20" stroke-width="0.25">4</text><text x="20.30" y="0" font-family='"Liberation Sans", sans-serif' font-weight="normal" font-size="14.76" fill="#231f20" stroke="#231f20" stroke-width="0.25">.</text><text x="26.34" y="0" font-family='"Liberation Sans", sans-serif' font-weight="normal" font-size="14.76" fill="#231f20" stroke="#231f20" stroke-width="0.25">5</text></g>
<line x1="89.1" y1="673.3" x2="89.1" y2="697.7" stroke="#201c1a" stroke-width="1.8"/>
<line x1="96.1" y1="673.3" x2="96.1" y2="697.7" stroke="#201c1a" stroke-width="1.8"/>
<line x1="69" y1="691.3" x2="87.8" y2="691.3" stroke="#201c1a" stroke-width="1.6"/>
<polygon points="88.40,691.30 78.94,689.10 77.40,691.30 78.94,693.50" fill="#201c1a"/>
<line x1="96.8" y1="691.3" x2="129.8" y2="691.3" stroke="#201c1a" stroke-width="1.6"/>
<polygon points="97.40,691.30 106.86,689.10 108.40,691.30 106.86,693.50" fill="#201c1a"/>
<g transform="translate(65.49,687.70) scale(0.9374,1)"><polygon points="5.88,0.00 5.88,-11.00 4.96,-11.00 4.26,-10.09 2.99,-9.01 1.72,-8.26 1.72,-6.93 3.15,-7.61 4.46,-8.54 4.46,0.00" fill="#231f20" stroke="#231f20" stroke-width="0.25" stroke-linejoin="round"/></g>
<line x1="102.2" y1="685.8" x2="102.2" y2="726.1" stroke="#201c1a" stroke-width="1.8"/>
<line x1="117.1" y1="678.9" x2="117.1" y2="726.1" stroke="#201c1a" stroke-width="1.8"/>
<line x1="75.5" y1="716.4" x2="101.5" y2="716.4" stroke="#201c1a" stroke-width="1.6"/>
<polygon points="101.50,716.40 92.04,714.20 90.50,716.40 92.04,718.60" fill="#201c1a"/>
<line x1="117.8" y1="716.4" x2="151.4" y2="716.4" stroke="#201c1a" stroke-width="1.6"/>
<polygon points="117.80,716.40 127.26,714.20 128.80,716.40 127.26,718.60" fill="#201c1a"/>
<g transform="translate(132.45,709.90) scale(0.9223,1)"><text x="0.00" y="0" font-family='"Liberation Sans", sans-serif' font-weight="normal" font-size="16.18" fill="#231f20" stroke="#231f20" stroke-width="0.25">2</text></g>
<line x1="199.4" y1="689.4" x2="199.4" y2="726" stroke="#201c1a" stroke-width="1.8"/>
<line x1="225.3" y1="689.4" x2="225.3" y2="726" stroke="#201c1a" stroke-width="1.8"/>
<line x1="200" y1="716.3" x2="224.7" y2="716.3" stroke="#201c1a" stroke-width="1.6"/>
<polygon points="200.10,716.30 209.56,714.10 211.10,716.30 209.56,718.50" fill="#201c1a"/>
<polygon points="224.60,716.30 215.14,714.10 213.60,716.30 215.14,718.50" fill="#201c1a"/>
<g transform="translate(208.02,708.50) scale(0.9122,1)"><text x="0.00" y="0" font-family='"Liberation Serif", serif' font-weight="normal" font-size="15.80" fill="#231f20" stroke="#231f20" stroke-width="0.25">4</text></g>
<line x1="291.1" y1="681.9" x2="291.1" y2="708" stroke="#201c1a" stroke-width="1.8"/>
<line x1="296.6" y1="681.9" x2="296.6" y2="708" stroke="#201c1a" stroke-width="1.8"/>
<line x1="269.4" y1="703.1" x2="288.4" y2="703.1" stroke="#201c1a" stroke-width="1.6"/>
<polygon points="289.60,703.10 280.14,700.90 278.60,703.10 280.14,705.30" fill="#201c1a"/>
<line x1="298.0" y1="703.1" x2="331.4" y2="703.1" stroke="#201c1a" stroke-width="1.6"/>
<polygon points="298.00,703.10 307.46,700.90 309.00,703.10 307.46,705.30" fill="#201c1a"/>
<g transform="translate(315.20,700.00) scale(0.8200,1)"><text x="0.00" y="0" font-family='"Liberation Sans", sans-serif' font-weight="normal" font-size="15.61" fill="#231f20" stroke="#231f20" stroke-width="0.25">0</text><text x="9.56" y="0" font-family='"Liberation Sans", sans-serif' font-weight="normal" font-size="15.61" fill="#231f20" stroke="#231f20" stroke-width="0.25">.</text><text x="14.78" y="0" font-family='"Liberation Sans", sans-serif' font-weight="normal" font-size="15.61" fill="#231f20" stroke="#231f20" stroke-width="0.25">5</text></g>
<line x1="525.8" y1="449.7" x2="525.8" y2="501.3" stroke="#201c1a" stroke-width="1.8"/>
<line x1="554.2" y1="451.3" x2="554.2" y2="501.3" stroke="#201c1a" stroke-width="1.8"/>
<line x1="505.3" y1="456.6" x2="525.1" y2="456.6" stroke="#201c1a" stroke-width="1.6"/>
<polygon points="525.10,456.60 515.64,454.40 514.10,456.60 515.64,458.80" fill="#201c1a"/>
<line x1="554.9" y1="456.6" x2="576.3" y2="456.6" stroke="#201c1a" stroke-width="1.6"/>
<polygon points="554.90,456.60 564.36,454.40 565.90,456.60 564.36,458.80" fill="#201c1a"/>
<g transform="translate(529.22,463.20) scale(0.8200,1)"><text x="0.00" y="0" font-family='"Liberation Sans", sans-serif' font-weight="normal" font-size="18.62" fill="#231f20" stroke="#231f20" stroke-width="0.25">3</text><text x="11.47" y="0" font-family='"Liberation Sans", sans-serif' font-weight="normal" font-size="18.62" fill="#231f20" stroke="#231f20" stroke-width="0.25">.</text><text x="17.75" y="0" font-family='"Liberation Sans", sans-serif' font-weight="normal" font-size="18.62" fill="#231f20" stroke="#231f20" stroke-width="0.25">8</text></g>
<path d="M525.6,546 V506 Q525.6,503.7 528,503.7 H553.2 Q555.6,503.7 555.6,506 V546" fill="none" stroke="#201c1a" stroke-width="1.8" />
<line x1="525.6" y1="508.6" x2="555.6" y2="508.6" stroke="#201c1a" stroke-width="1.8"/>
<line x1="525.6" y1="515" x2="555.6" y2="515" stroke="#201c1a" stroke-width="1.8"/>
<path d="M504.9,664 V550 Q504.9,546 508.9,546 H571.1 Q575.1,546 575.1,550 V664 H570.9 V550.2 H509.1 V664 Z" fill="none" stroke="#201c1a" stroke-width="1.8" />
<path d="M512.6,612.7 V554.1 H518 V551.4 H520.1 V554.1 H525 V551.4 H532.6 V556.9 H549.5 V551.4 H558.8 V554.1 H562 V551.4 H565.3 V554.1 H569.4 V612.7 H563.5 V594.3 H549.4 V611.3 H532.4 V594.3 H520.4 V612.7 Z" fill="none" stroke="#201c1a" stroke-width="1.6" />
<line x1="533.7" y1="554.1" x2="547.9" y2="554.1" stroke="#201c1a" stroke-width="1.5"/>
<path d="M527.7,554.1 V571 Q527.7,575.9 532.6,575.9 H549.5 Q554.4,575.9 554.4,571 V554.1" fill="none" stroke="#201c1a" stroke-width="1.6" />
<line x1="509.6" y1="617.2" x2="570.4" y2="617.2" stroke="#201c1a" stroke-width="1.8"/>
<line x1="509.6" y1="627.4" x2="570.4" y2="627.4" stroke="#201c1a" stroke-width="1.8"/>
<path d="M523.4,617.2 V600.7 H528.8 V617.2" fill="none" stroke="#201c1a" stroke-width="1.6" />
<path d="M523.4,627.4 V668.5 H528.8 V627.4" fill="none" stroke="#201c1a" stroke-width="1.6" />
<line x1="526.1" y1="602.5" x2="526.1" y2="614.5" stroke="#201c1a" stroke-width="1.5"/>
<line x1="526.1" y1="618.5" x2="526.1" y2="624" stroke="#201c1a" stroke-width="1.5"/>
<line x1="526.1" y1="629" x2="526.1" y2="666" stroke="#201c1a" stroke-width="1.5" stroke-dasharray="6,2.5"/>
<path d="M553.0,617.2 V600.7 H558.4 V617.2" fill="none" stroke="#201c1a" stroke-width="1.6" />
<path d="M553.0,627.4 V668.5 H558.4 V627.4" fill="none" stroke="#201c1a" stroke-width="1.6" />
<line x1="555.7" y1="602.5" x2="555.7" y2="614.5" stroke="#201c1a" stroke-width="1.5"/>
<line x1="555.7" y1="618.5" x2="555.7" y2="624" stroke="#201c1a" stroke-width="1.5"/>
<line x1="555.7" y1="629" x2="555.7" y2="666" stroke="#201c1a" stroke-width="1.5" stroke-dasharray="6,2.5"/>
<line x1="541.4" y1="497" x2="541.4" y2="639.5" stroke="#201c1a" stroke-width="1.7" stroke-dasharray="7.5,5.5"/>
<line x1="576.9" y1="548.7" x2="645" y2="548.7" stroke="#201c1a" stroke-width="1.8"/>
<line x1="563.7" y1="672.4" x2="644.5" y2="672.4" stroke="#201c1a" stroke-width="1.8"/>
<line x1="633.4" y1="548.7" x2="633.4" y2="672.4" stroke="#201c1a" stroke-width="1.6"/>
<polygon points="633.40,549.40 631.20,558.86 633.40,560.40 635.60,558.86" fill="#201c1a"/>
<polygon points="633.40,671.70 631.20,662.24 633.40,660.70 635.60,662.24" fill="#201c1a"/>
<g transform="translate(620.30,614.90) rotate(-90) translate(-16.89,6.60) scale(0.8200,1)"><polygon points="7.05,0.00 7.05,-13.20 5.96,-13.20 5.11,-12.10 3.59,-10.82 2.06,-9.91 2.06,-8.32 3.78,-9.13 5.35,-10.25 5.35,0.00" fill="#231f20" stroke="#231f20" stroke-width="0.25" stroke-linejoin="round"/><text x="11.56" y="0" font-family='"Liberation Sans", sans-serif' font-weight="normal" font-size="18.91" fill="#231f20" stroke="#231f20" stroke-width="0.25">5</text><text x="23.12" y="0" font-family='"Liberation Sans", sans-serif' font-weight="normal" font-size="18.91" fill="#231f20" stroke="#231f20" stroke-width="0.25">.</text><text x="29.41" y="0" font-family='"Liberation Sans", sans-serif' font-weight="normal" font-size="18.91" fill="#231f20" stroke="#231f20" stroke-width="0.25">5</text></g>
<line x1="505.3" y1="665.9" x2="505.3" y2="701.8" stroke="#201c1a" stroke-width="1.8"/>
<line x1="508.9" y1="665.9" x2="508.9" y2="701.8" stroke="#201c1a" stroke-width="1.8"/>
<line x1="466.7" y1="689.8" x2="504.6" y2="689.8" stroke="#201c1a" stroke-width="1.6"/>
<polygon points="504.60,689.80 495.14,687.60 493.60,689.80 495.14,692.00" fill="#201c1a"/>
<line x1="509.6" y1="689.8" x2="552.2" y2="689.8" stroke="#201c1a" stroke-width="1.6"/>
<polygon points="509.60,689.80 519.06,687.60 520.60,689.80 519.06,692.00" fill="#201c1a"/>
<polygon points="552.20,689.80 542.74,687.60 541.20,689.80 542.74,692.00" fill="#201c1a"/>
<line x1="552.9" y1="670.2" x2="552.9" y2="694.2" stroke="#201c1a" stroke-width="1.8"/>
<line x1="558.7" y1="670.2" x2="558.7" y2="694.2" stroke="#201c1a" stroke-width="1.8"/>
<line x1="559.4" y1="689.8" x2="599.8" y2="689.8" stroke="#201c1a" stroke-width="1.6"/>
<polygon points="559.40,689.80 568.86,687.60 570.40,689.80 568.86,692.00" fill="#201c1a"/>
<line x1="526.3" y1="687.1" x2="526.3" y2="723.6" stroke="#201c1a" stroke-width="1.8"/>
<line x1="555.9" y1="687.7" x2="555.9" y2="723.6" stroke="#201c1a" stroke-width="1.8"/>
<line x1="526.3" y1="672.4" x2="526.3" y2="678.4" stroke="#201c1a" stroke-width="1.6"/>
<line x1="555.9" y1="670.2" x2="555.9" y2="682" stroke="#201c1a" stroke-width="1.6" stroke-dasharray="5,3"/>
<line x1="527" y1="716.8" x2="555.2" y2="716.8" stroke="#201c1a" stroke-width="1.6"/>
<polygon points="527.00,716.80 536.46,714.60 538.00,716.80 536.46,719.00" fill="#201c1a"/>
<polygon points="555.20,716.80 545.74,714.60 544.20,716.80 545.74,719.00" fill="#201c1a"/>
<g transform="translate(529.75,711.20) scale(0.8200,1)"><text x="0.00" y="0" font-family='"Liberation Sans", sans-serif' font-weight="normal" font-size="18.76" fill="#231f20" stroke="#231f20" stroke-width="0.25">4</text><text x="11.80" y="0" font-family='"Liberation Sans", sans-serif' font-weight="normal" font-size="18.76" fill="#231f20" stroke="#231f20" stroke-width="0.25">.</text><text x="18.38" y="0" font-family='"Liberation Sans", sans-serif' font-weight="normal" font-size="18.76" fill="#231f20" stroke="#231f20" stroke-width="0.25">2</text></g>
<g transform="translate(460.30,686.10) scale(0.8200,1)"><text x="0.00" y="0" font-family='"Liberation Sans", sans-serif' font-weight="normal" font-size="18.62" fill="#231f20" stroke="#231f20" stroke-width="0.25">0</text><text x="11.72" y="0" font-family='"Liberation Sans", sans-serif' font-weight="normal" font-size="18.62" fill="#231f20" stroke="#231f20" stroke-width="0.25">.</text><text x="18.26" y="0" font-family='"Liberation Sans", sans-serif' font-weight="normal" font-size="18.62" fill="#231f20" stroke="#231f20" stroke-width="0.25">6</text></g>
<g transform="translate(480.01,670.50) scale(1.2068,1)"><text x="0.00" y="0" font-family='"Liberation Sans", sans-serif' font-weight="normal" font-size="7.12" fill="#231f20" stroke="#231f20" stroke-width="0.25">T</text><text x="4.35" y="0" font-family='"Liberation Sans", sans-serif' font-weight="normal" font-size="7.12" fill="#231f20" stroke="#231f20" stroke-width="0.25">H</text><text x="9.49" y="0" font-family='"Liberation Sans", sans-serif' font-weight="normal" font-size="7.12" fill="#231f20" stroke="#231f20" stroke-width="0.25">K</text></g>
<g transform="translate(577.32,687.70) scale(0.8200,1)"><text x="0.00" y="0" font-family='"Liberation Sans", sans-serif' font-weight="normal" font-size="18.19" fill="#231f20" stroke="#231f20" stroke-width="0.25">0</text><text x="11.27" y="0" font-family='"Liberation Sans", sans-serif' font-weight="normal" font-size="18.19" fill="#231f20" stroke="#231f20" stroke-width="0.25">.</text><text x="17.47" y="0" font-family='"Liberation Sans", sans-serif' font-weight="normal" font-size="18.19" fill="#231f20" stroke="#231f20" stroke-width="0.25">4</text></g>
<g transform="translate(602.49,682.70) scale(1.0066,1)"><text x="0.00" y="0" font-family='"Liberation Sans", sans-serif' font-weight="normal" font-size="9.45" fill="#231f20" stroke="#231f20" stroke-width="0.25">T</text><text x="5.77" y="0" font-family='"Liberation Sans", sans-serif' font-weight="normal" font-size="9.45" fill="#231f20" stroke="#231f20" stroke-width="0.25">H</text><text x="12.59" y="0" font-family='"Liberation Sans", sans-serif' font-weight="normal" font-size="9.45" fill="#231f20" stroke="#231f20" stroke-width="0.25">K</text></g>
</svg>
</body></html>
